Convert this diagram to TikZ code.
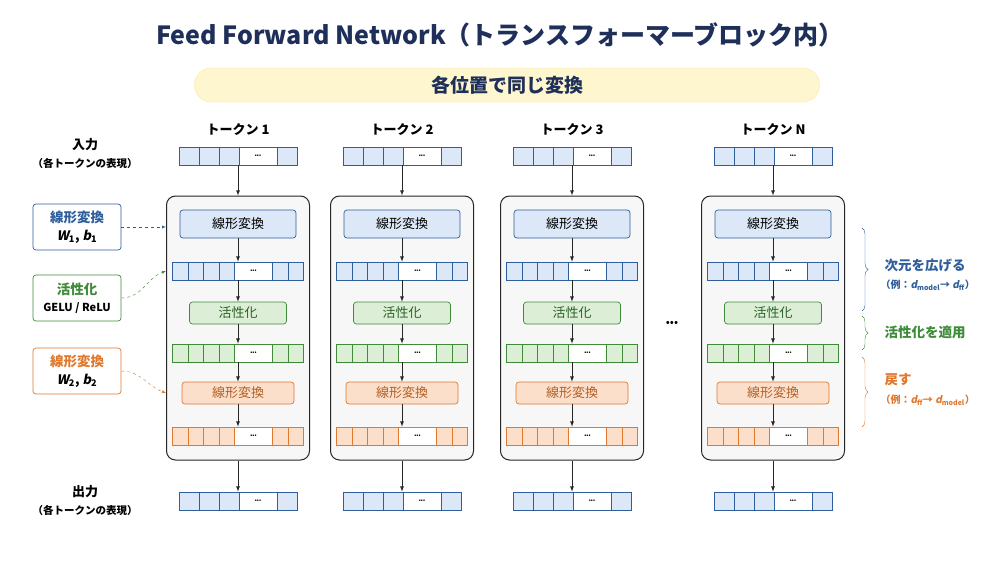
\documentclass[tikz,border=0pt]{standalone}
\usepackage{fontspec}
\setmainfont{Noto Sans CJK JP}
\newfontfamily\slfont{Noto Sans CJK JP}[FakeSlant=0.2]
\usetikzlibrary{calc,decorations.pathreplacing}
\tikzset{>=latex}
\definecolor{navy}{HTML}{1E2F5A}
\definecolor{bline}{HTML}{2F5E9C}
\definecolor{bfill}{HTML}{DCE8F7}
\definecolor{gline}{HTML}{3F8B3A}
\definecolor{gfill}{HTML}{DCEFD6}
\definecolor{oline}{HTML}{E0782E}
\definecolor{ofill}{HTML}{FBDFCB}
\tikzstyle{arr}=[->,thick,black!85]
\tikzstyle{block}=[draw=black!85,fill=blue!5!gray!6,line width=1pt,rounded corners=9pt,inner sep=0]
\tikzstyle{op}=[rounded corners=3pt,line width=0.7pt,inner sep=0,font=\fontsize{13}{15}\selectfont]
\tikzstyle{side}=[op,fill=white,minimum width=88pt,minimum height=46pt,align=center,
                  font=\fontsize{13.5}{16}\selectfont\bfseries]
\newcommand*{\vit}[1]{{\slfont #1}}
% row of cells: name, x, y, colour, cells left, cells right, cell width
\newcommand{\cellrow}[7]{%
  \pgfmathsetmacro\rw{(#5+#6)*#7+38}
  \pgfmathsetmacro\rl{#2-\rw/2}
  \node[draw=#4line,fill=white,line width=0.8pt,inner sep=0,
        minimum width=\rw pt,minimum height=18pt] (#1) at (#2,#3) {};
  \foreach \k in {1,...,#5}
    \draw[draw=#4line,fill=#4fill,line width=0.8pt] (\rl+\k*#7-#7,#3-9) rectangle ++(#7,18);
  \foreach \k in {1,...,#6}
    \draw[draw=#4line,fill=#4fill,line width=0.8pt] (\rl+#5*#7+38+\k*#7-#7,#3-9) rectangle ++(#7,18);
  \node[inner sep=0,font=\fontsize{6}{6}\selectfont] at (\rl+#5*#7+19,#3) {•••};
}

\begin{document}
\begin{tikzpicture}[x=1pt,y=-1pt]
  \fill[white] (0,0) rectangle (1000,563);
  \useasboundingbox (0,0) rectangle (1000,563);

  % TITLE
  \node[text=navy,font=\fontsize{25}{28}\selectfont\bfseries] (title) at (500,35)
    {Feed Forward Network（トランスフォーマーブロック内）};
  \node[fill=yellow!70!orange!18,draw=yellow!60!orange!40,rounded corners=17pt,
        minimum width=625pt,minimum height=34pt,text=navy,
        font=\fontsize{19}{22}\selectfont\bfseries] (same) at (507,85) {各位置で同じ変換};

  % COLUMNS
  \foreach \cx/\tk [count=\c] in {238/1,402/2,572/3,773/N}{
    \node[font=\fontsize{13}{15}\selectfont\bfseries] (tok\c) at (\cx,130) {トークン \tk};
    \cellrow{in\c}{\cx}{156}{b}{3}{1}{20}
    \node[block,minimum width=143pt,minimum height=264pt] (ffn\c) at (\cx,328) {};
    \node[op,draw=bline,fill=bfill,minimum width=116pt,minimum height=28pt] (lin\c) at (\cx,224) {線形変換};
    \cellrow{h\c}{\cx}{271}{b}{4}{2}{15.5}
    \node[op,draw=gline,fill=gfill,text=gline!70!black,minimum width=97pt,minimum height=22pt] (act\c) at (\cx,313) {活性化};
    \cellrow{g\c}{\cx}{353}{g}{4}{2}{15.5}
    \node[op,draw=oline,fill=ofill,text=oline!80!black,minimum width=112pt,minimum height=22pt] (lio\c) at (\cx,393) {線形変換};
    \cellrow{o\c}{\cx}{436}{o}{4}{2}{15.5}
    \cellrow{out\c}{\cx}{501}{b}{3}{1}{20}
    \draw[arr] (in\c) -- (ffn\c);
    \draw[arr] (lin\c) -- (h\c);
    \draw[arr] (h\c) -- (act\c);
    \draw[arr] (act\c) -- (g\c);
    \draw[arr] (g\c) -- (lio\c);
    \draw[arr] (lio\c) -- (o\c);
    \draw[arr] (ffn\c) -- (out\c);
  }
  \node[font=\fontsize{12}{12}\selectfont] (gap) at (672,324) {•••};

  % LEFT LABELS
  \node[font=\fontsize{13}{15}\selectfont\bfseries] (inlab) at (85,145) {入力};
  \node[font=\fontsize{10.5}{12}\selectfont\bfseries] (inlab2) at (85,163) {（各トークンの表現）};
  \node[font=\fontsize{13}{15}\selectfont\bfseries] (outlab) at (85,492) {出力};
  \node[font=\fontsize{10.5}{12}\selectfont\bfseries] (outlab2) at (85,510) {（各トークンの表現）};
  \node[side,draw=bline,text=bline] (lb) at (77,227) {線形変換\\[2pt]{\color{black}\fontsize{13}{15}\selectfont\vit{W}\textsubscript{1}, \vit{b}\textsubscript{1}}};
  \node[side,draw=gline,text=gline] (lg) at (77,298) {活性化\\[1pt]{\color{black}\fontsize{11}{13}\selectfont GELU / ReLU}};
  \node[side,draw=oline,text=oline] (lo) at (77,371) {線形変換\\[2pt]{\color{black}\fontsize{13}{15}\selectfont\vit{W}\textsubscript{2}, \vit{b}\textsubscript{2}}};
  \draw[->,dashed,bline] (lb.east) -- (ffn1.west|-lb);
  \draw[->,dashed,gline] (lg.east) to[out=0,in=200] (ffn1.west|-h1);
  \draw[->,dashed,oline] (lo.east) to[out=0,in=160] (ffn1.west|-lio1);

  % RIGHT BRACES
  \coordinate (b1) at (862,228); \coordinate (b2) at (862,311);
  \coordinate (g1) at (862,316); \coordinate (g2) at (862,350);
  \coordinate (o1) at (862,357); \coordinate (o2) at (862,427);
  \draw[bline,decorate,decoration={brace,amplitude=6pt}] (b1) -- (b2);
  \draw[gline,decorate,decoration={brace,amplitude=6pt}] (g1) -- (g2);
  \draw[oline,decorate,decoration={brace,amplitude=6pt}] (o1) -- (o2);
  \node[anchor=west,text=bline,font=\fontsize{13.5}{15}\selectfont\bfseries] (exp) at (881,265) {次元を広げる};
  \node[anchor=west,text=bline,font=\fontsize{10}{12}\selectfont\bfseries] (exp2) at (877,285)
    {（例：\vit{d}\textsubscript{model}→ \vit{d}\textsubscript{ff}）};
  \node[anchor=west,text=gline,font=\fontsize{13.5}{15}\selectfont\bfseries] (app) at (881,332) {活性化を適用};
  \node[anchor=west,text=oline,font=\fontsize{13.5}{15}\selectfont\bfseries] (back) at (881,380) {戻す};
  \node[anchor=west,text=oline,font=\fontsize{10}{12}\selectfont\bfseries] (back2) at (877,400)
    {（例：\vit{d}\textsubscript{ff}→ \vit{d}\textsubscript{model}）};
\end{tikzpicture}
\end{document}
